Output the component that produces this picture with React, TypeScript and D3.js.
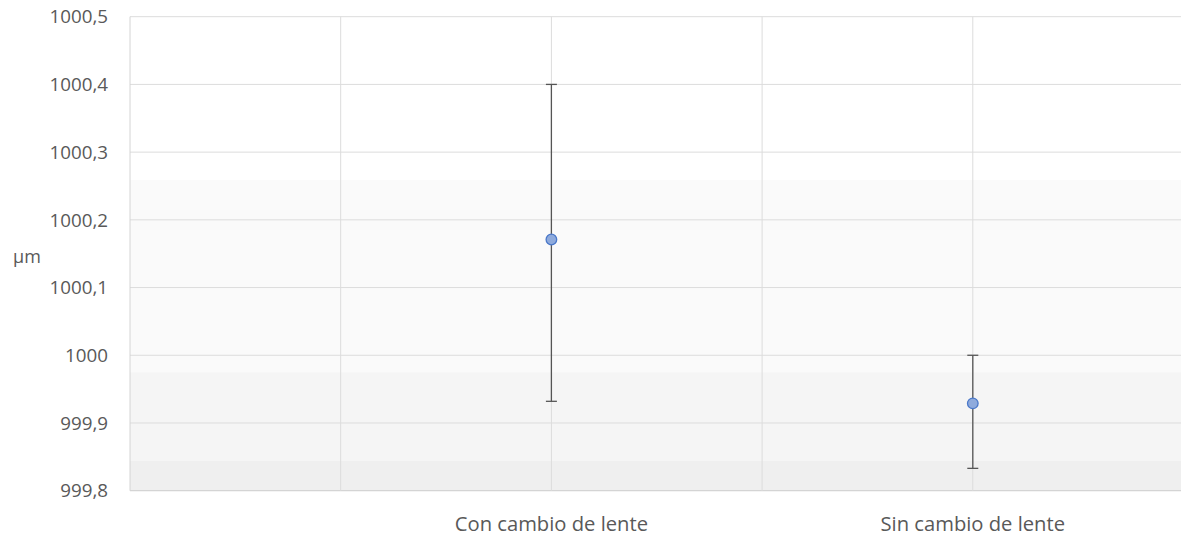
import React from "react";
import * as d3 from "d3";

// Measurement summary per group: mean with min/max range
const categories = ["Con cambio de lente", "Sin cambio de lente"];
const categoryX = [2, 4];
const means = [1000.171, 999.929];
const lows = [999.932, 999.833];
const highs = [1000.4, 1000.0];

const yTicks = [999.8, 999.9, 1000.0, 1000.1, 1000.2, 1000.3, 1000.4, 1000.5];
const xGrid = [0, 1, 2, 3, 4, 5];

// Plot-area shading, from top to bottom (value bounds)
const shadeFrom = [1000.259, 999.975, 999.844];
const shadeTo = [999.975, 999.844, 999.8];
const shadeFill = ["#fafafa", "#f5f5f5", "#efefef"];

const W = 1181;
const H = 536;
const FONT = "'Open Sans', 'DejaVu Sans', sans-serif";
const TEXT = "#595959";

export default function App() {
  const x = d3.scaleLinear().domain([0, 5]).range([130, 1183.5]);
  const y = d3.scaleLinear().domain([999.8, 1000.5]).range([490.7, 16.7]);
  const fmt = (v: number) => {
    const s = d3.format(".1f")(v);
    return s.endsWith(".0") ? s.slice(0, -2) : s.replace(".", ",");
  };
  const capHalf = 5.5;

  return (
    <svg
      width={W}
      height={H}
      style={{ position: "absolute", left: 0, top: 0, background: "#fff" }}
      fontFamily={FONT}
    >
      {/* background shading */}
      {shadeFrom.map((v, i) => (
        <rect
          key={"s" + i}
          x={x(0)}
          y={y(v)}
          width={x(5) - x(0)}
          height={y(shadeTo[i]) - y(v)}
          fill={shadeFill[i]}
        />
      ))}

      {/* horizontal gridlines */}
      {yTicks.map((t) => (
        <line
          key={"h" + t}
          x1={x(0)}
          x2={x(5)}
          y1={y(t)}
          y2={y(t)}
          stroke={t === 999.8 ? "#d4d4d4" : "#dcdcdc"}
          strokeWidth={t === 999.8 ? 1.3 : 1}
        />
      ))}

      {/* vertical gridlines */}
      {xGrid.map((g) => (
        <line
          key={"v" + g}
          x1={x(g)}
          x2={x(g)}
          y1={y(1000.5)}
          y2={y(999.8)}
          stroke={g === 0 ? "#d4d4d4" : "#dcdcdc"}
          strokeWidth={1}
        />
      ))}

      {/* y tick labels */}
      {yTicks.map((t) => (
        <text
          key={"yt" + t}
          x={108}
          y={y(t)}
          dy="0.36em"
          textAnchor="end"
          fontSize={18.8}
          fill={TEXT}
        >
          {fmt(t)}
        </text>
      ))}

      {/* axis title */}
      <text x={13} y={263} fontSize={18} fill={TEXT}>
        µm
      </text>

      {/* category labels */}
      {categories.map((c, i) => (
        <text
          key={c}
          x={x(categoryX[i])}
          y={531}
          textAnchor="middle"
          fontSize={20.2}
          fill={TEXT}
        >
          {c}
        </text>
      ))}

      {/* error bars */}
      {categories.map((c, i) => {
        const cx = x(categoryX[i]);
        return (
          <g key={"e" + c} stroke="#555" strokeWidth={1.3}>
            <line x1={cx} x2={cx} y1={y(highs[i])} y2={y(lows[i])} />
            <line x1={cx - capHalf} x2={cx + capHalf} y1={y(highs[i])} y2={y(highs[i])} />
            <line x1={cx - capHalf} x2={cx + capHalf} y1={y(lows[i])} y2={y(lows[i])} />
          </g>
        );
      })}

      {/* mean markers */}
      {categories.map((c, i) => (
        <circle
          key={"m" + c}
          cx={x(categoryX[i])}
          cy={y(means[i])}
          r={5.3}
          fill="#8eaadc"
          stroke="#4a78c9"
          strokeWidth={1.3}
        />
      ))}
    </svg>
  );
}
